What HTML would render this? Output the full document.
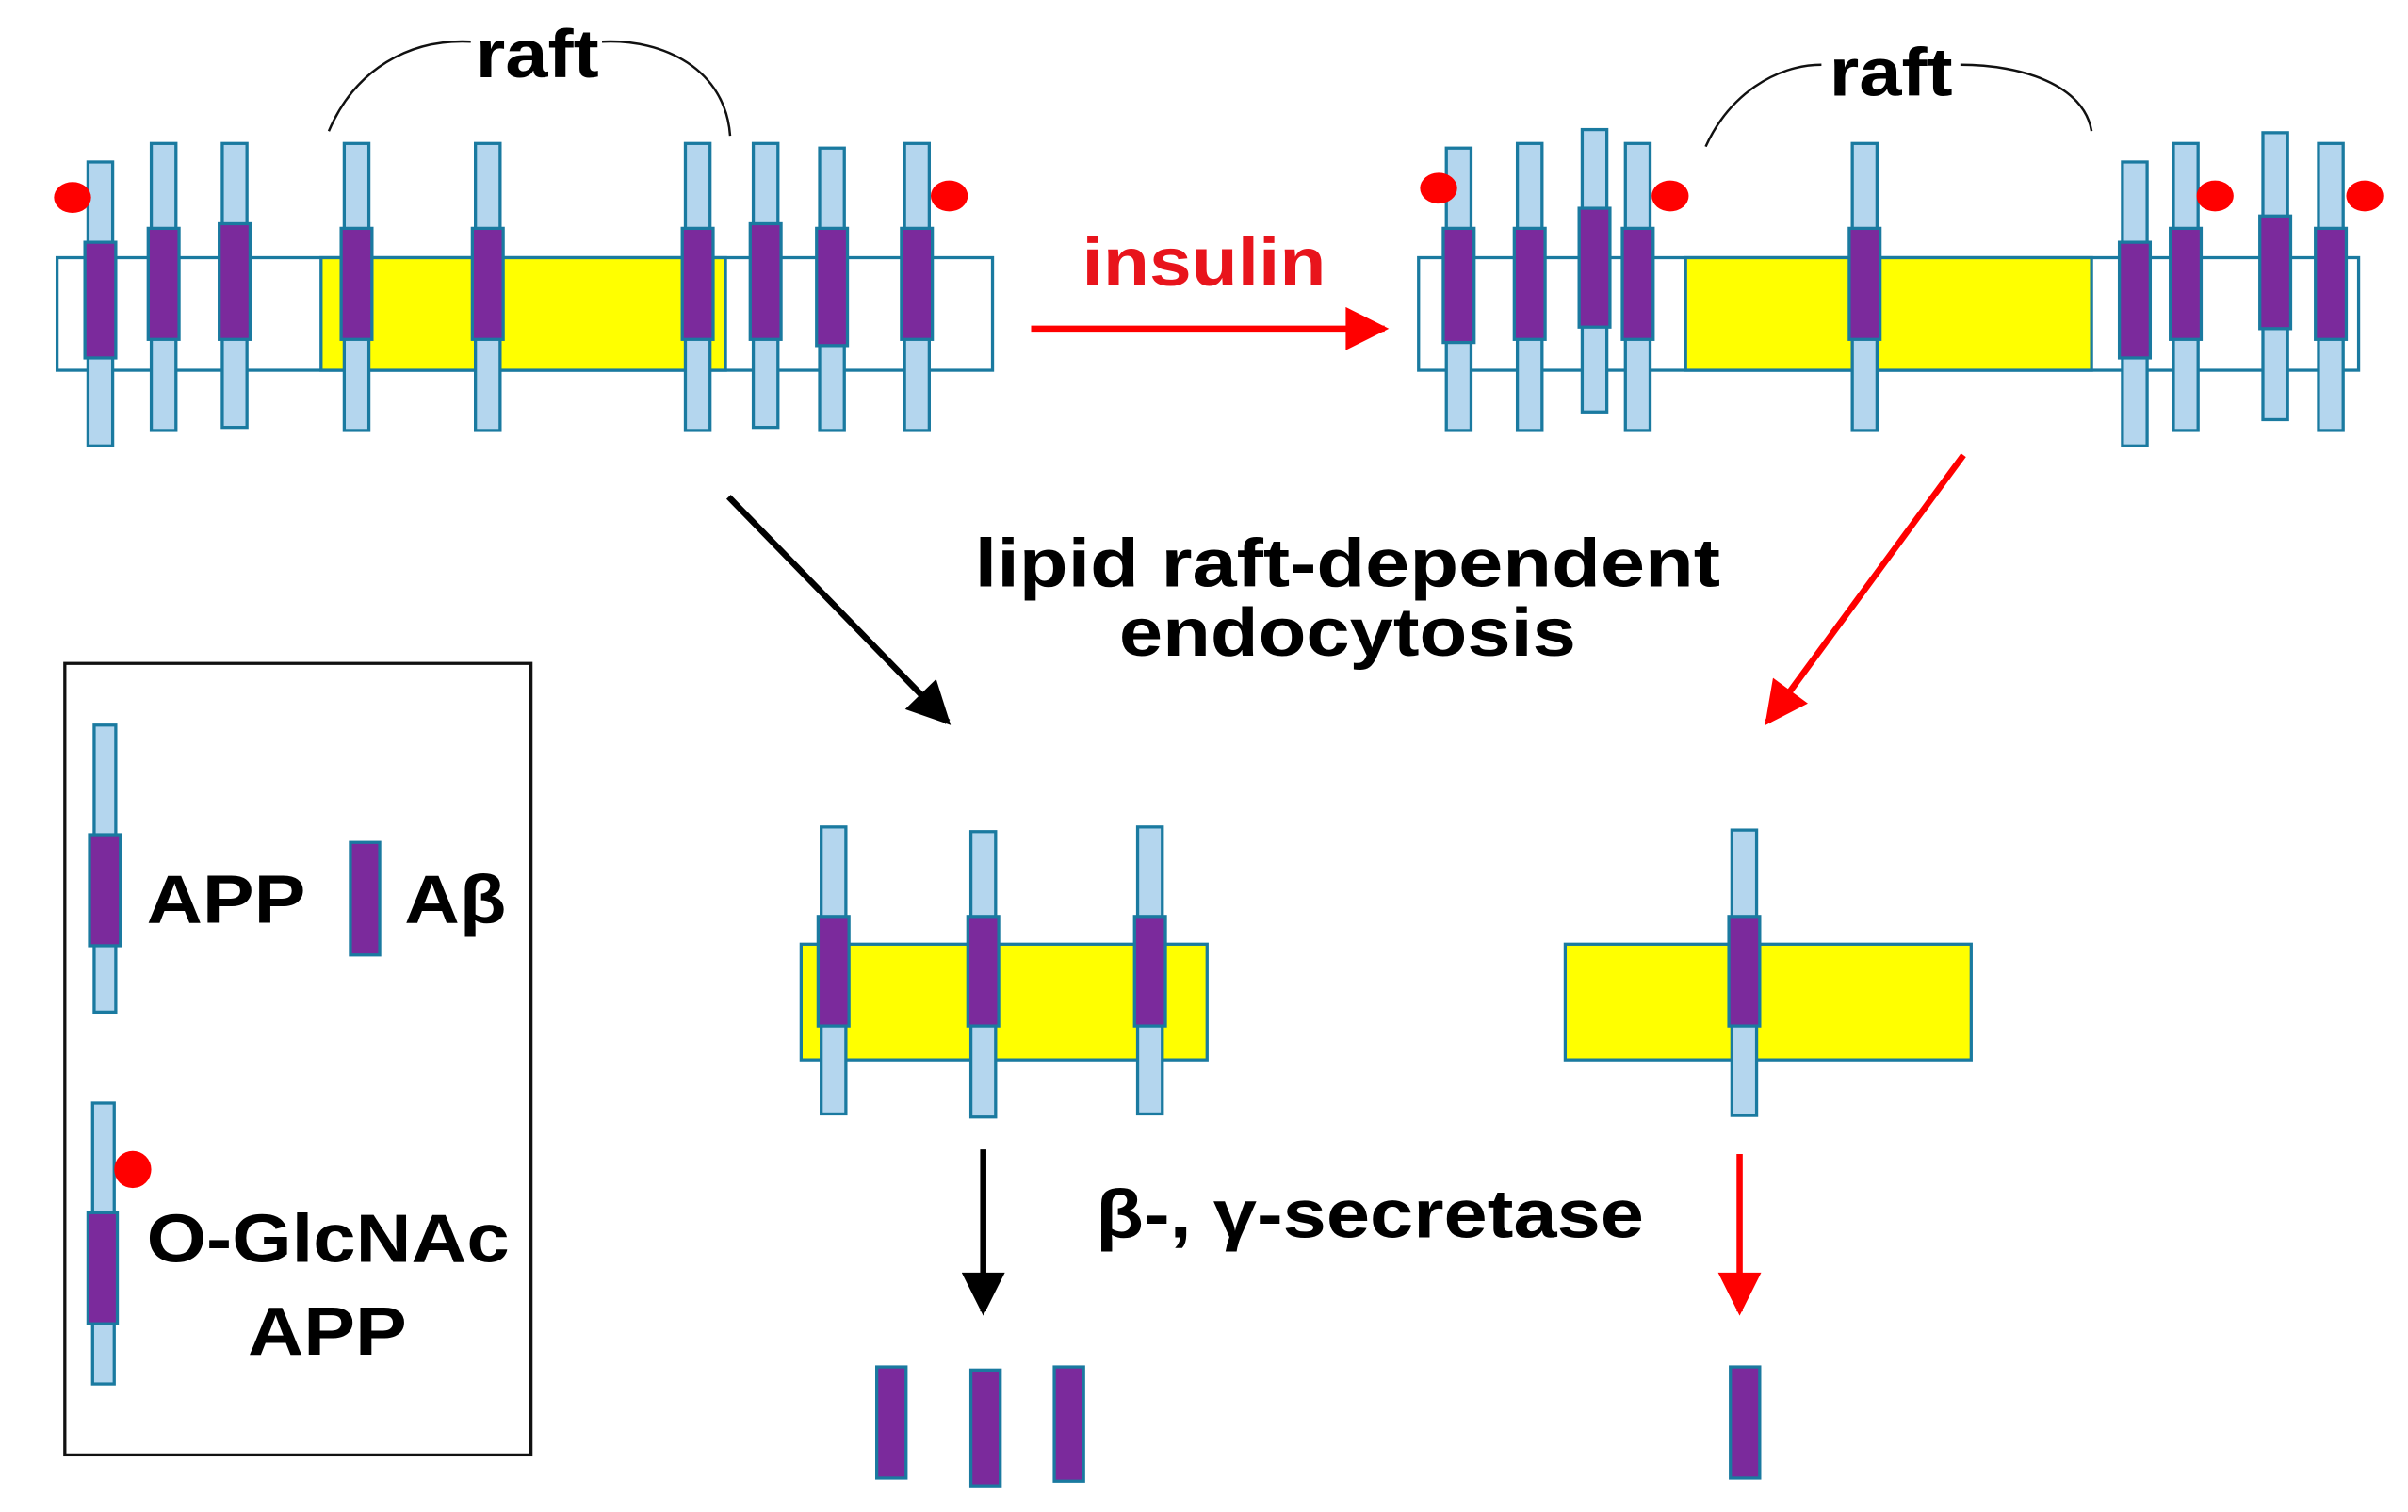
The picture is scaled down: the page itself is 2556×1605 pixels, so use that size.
<!DOCTYPE html>
<html><head><style>html,body{margin:0;padding:0;background:#fff}svg{display:block}</style></head>
<body>
<svg width="2556" height="1605" viewBox="0 0 1560 980" preserveAspectRatio="none" xmlns="http://www.w3.org/2000/svg" font-family="Liberation Sans, Arial, sans-serif" font-weight="bold">
<defs>
<marker id="hb" viewBox="0 0 10 10" refX="9" refY="5" markerWidth="8" markerHeight="7" orient="auto" markerUnits="strokeWidth"><path d="M0,0 L10,5 L0,10 z" fill="#000"/></marker>
<marker id="hr" viewBox="0 0 10 10" refX="9" refY="5" markerWidth="8" markerHeight="7" orient="auto" markerUnits="strokeWidth"><path d="M0,0 L10,5 L0,10 z" fill="#f00"/></marker>
</defs>
<g stroke="#1a7aa0" stroke-width="2">
<rect x="37" y="167" width="606" height="73" fill="#fff"/>
<rect x="208" y="167" width="262" height="73" fill="#ff0"/>
<rect x="919" y="167" width="609" height="73" fill="#fff"/>
<rect x="1092" y="167" width="263" height="73" fill="#ff0"/>
<rect x="519" y="612" width="263" height="75" fill="#ff0"/>
<rect x="1014" y="612" width="263" height="75" fill="#ff0"/>
</g>
<g stroke="#1a7aa0" stroke-width="2">
<g fill="#b4d6ee">
<rect x="57" y="105" width="16" height="184"/><rect x="98" y="93" width="16" height="186"/><rect x="144" y="93" width="16" height="184"/>
<rect x="223" y="93" width="16" height="186"/><rect x="308" y="93" width="16" height="186"/><rect x="444" y="93" width="16" height="186"/>
<rect x="488" y="93" width="16" height="184"/><rect x="531" y="96" width="16" height="183"/><rect x="586" y="93" width="16" height="186"/>
<rect x="937" y="96" width="16" height="183"/><rect x="983" y="93" width="16" height="186"/><rect x="1025" y="84" width="16" height="183"/>
<rect x="1053" y="93" width="16" height="186"/><rect x="1200" y="93" width="16" height="186"/><rect x="1375" y="105" width="16" height="184"/>
<rect x="1408" y="93" width="16" height="186"/><rect x="1466" y="86" width="16" height="186"/><rect x="1502" y="93" width="16" height="186"/>
<rect x="532" y="536" width="16" height="186"/><rect x="629" y="539" width="16" height="185"/><rect x="737" y="536" width="16" height="186"/>
<rect x="1122" y="538" width="16" height="185"/>
<rect x="61" y="470" width="14" height="186"/><rect x="60" y="715" width="14" height="182"/>
</g>
<g fill="#7b2a9c">
<rect x="55" y="157" width="20" height="75"/><rect x="96" y="148" width="20" height="72"/><rect x="142" y="145" width="20" height="75"/>
<rect x="221" y="148" width="20" height="72"/><rect x="306" y="148" width="20" height="72"/><rect x="442" y="148" width="20" height="72"/>
<rect x="486" y="145" width="20" height="75"/><rect x="529" y="148" width="20" height="76"/><rect x="584" y="148" width="20" height="72"/>
<rect x="935" y="148" width="20" height="74"/><rect x="981" y="148" width="20" height="72"/><rect x="1023" y="135" width="20" height="77"/>
<rect x="1051" y="148" width="20" height="72"/><rect x="1198" y="148" width="20" height="72"/><rect x="1373" y="157" width="20" height="75"/>
<rect x="1406" y="148" width="20" height="72"/><rect x="1464" y="140" width="20" height="73"/><rect x="1500" y="148" width="20" height="72"/>
<rect x="530" y="594" width="20" height="71"/><rect x="627" y="594" width="20" height="71"/><rect x="735" y="594" width="20" height="71"/>
<rect x="1120" y="594" width="20" height="71"/>
<rect x="58" y="541" width="20" height="72"/><rect x="57" y="786" width="19" height="72"/>
<rect x="227" y="546" width="19" height="73"/>
<rect x="568" y="886" width="19" height="72"/><rect x="629" y="888" width="19" height="75"/><rect x="683" y="886" width="19" height="74"/>
<rect x="1121" y="886" width="19" height="72"/>
</g>
</g>
<g fill="#f00">
<ellipse cx="47" cy="128" rx="12" ry="10"/><ellipse cx="615" cy="127" rx="12" ry="10"/>
<ellipse cx="932" cy="122" rx="12" ry="10"/><ellipse cx="1082" cy="127" rx="12" ry="10"/>
<ellipse cx="1435" cy="127" rx="12" ry="10"/><ellipse cx="1532" cy="127" rx="12" ry="10"/>
<ellipse cx="86" cy="758" rx="12" ry="12"/>
</g>
<g fill="none" stroke="#111" stroke-width="1.5">
<path d="M213,85 C230,45 265,25 305,27"/><path d="M390,27 C430,25 470,45 473,88"/>
<path d="M1105,95 C1120,62 1150,42 1180,42"/><path d="M1270,42 C1310,42 1350,55 1355,85"/>
</g>
<text x="348" y="50" font-size="44" text-anchor="middle" fill="#000" textLength="80" lengthAdjust="spacingAndGlyphs">raft</text>
<text x="1225" y="62" font-size="44" text-anchor="middle" fill="#000" textLength="80" lengthAdjust="spacingAndGlyphs">raft</text>
<text x="780" y="185" font-size="44" text-anchor="middle" fill="#e8141c" textLength="158" lengthAdjust="spacingAndGlyphs">insulin</text>
<line x1="668" y1="213" x2="897" y2="213" stroke="#f00" stroke-width="4" marker-end="url(#hr)"/>
<line x1="472" y1="322" x2="614" y2="468" stroke="#000" stroke-width="4" marker-end="url(#hb)"/>
<line x1="1272" y1="295" x2="1145" y2="468" stroke="#f00" stroke-width="4" marker-end="url(#hr)"/>
<text x="873" y="380" font-size="44" text-anchor="middle" textLength="483" lengthAdjust="spacingAndGlyphs">lipid  raft-dependent</text>
<text x="873" y="425" font-size="44" text-anchor="middle" textLength="296" lengthAdjust="spacingAndGlyphs">endocytosis</text>
<line x1="637" y1="745" x2="637" y2="850" stroke="#000" stroke-width="4" marker-end="url(#hb)"/>
<line x1="1127" y1="748" x2="1127" y2="850" stroke="#f00" stroke-width="4" marker-end="url(#hr)"/>
<text x="710" y="802" font-size="44" textLength="355" lengthAdjust="spacingAndGlyphs">β-, γ-secretase</text>
<rect x="42" y="430" width="302" height="513" fill="none" stroke="#111" stroke-width="2"/>
<text x="95" y="598" font-size="44" textLength="103" lengthAdjust="spacingAndGlyphs">APP</text>
<text x="262" y="598" font-size="44" textLength="66" lengthAdjust="spacingAndGlyphs">Aβ</text>
<text x="95" y="818" font-size="44" textLength="235" lengthAdjust="spacingAndGlyphs">O-GlcNAc</text>
<text x="212" y="878" font-size="44" text-anchor="middle" textLength="103" lengthAdjust="spacingAndGlyphs">APP</text>
</svg>
</body></html>
